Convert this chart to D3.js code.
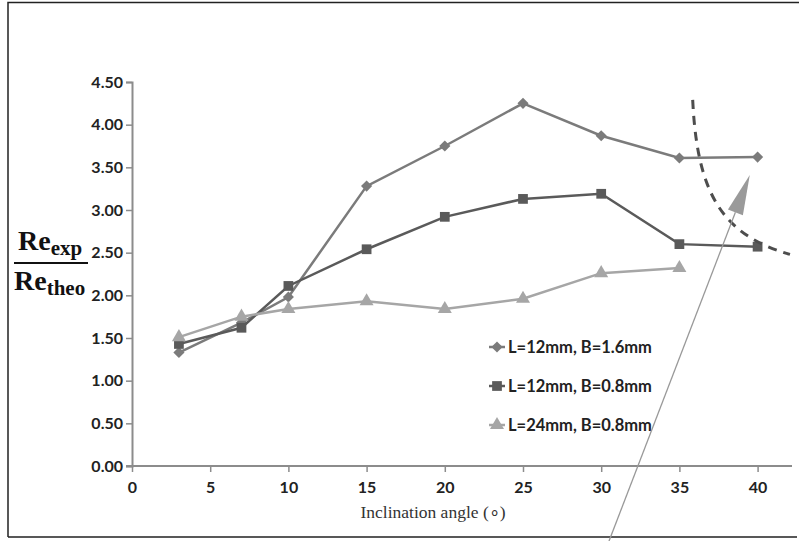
<!DOCTYPE html>
<html>
<head>
<meta charset="utf-8">
<script src="https://cdn.jsdelivr.net/npm/d3@7"></script>
<style>
  body { margin: 0; background: #fff; }
  svg { display: block; }
</style>
</head>
<body>
<div id="chart"></div>
<script>
// data
var ANGLES = [3, 7, 10, 15, 20, 25, 30, 35, 40];
var SERIES_NAMES = ["L=12mm, B=1.6mm", "L=12mm, B=0.8mm", "L=24mm, B=0.8mm"];
var S1 = [1.33, 1.68, 1.98, 3.28, 3.75, 4.25, 3.87, 3.61, 3.62];
var S2 = [1.43, 1.62, 2.11, 2.54, 2.92, 3.13, 3.19, 2.60, 2.57];
var S3 = [1.51, 1.75, 1.84, 1.93, 1.84, 1.96, 2.26, 2.32];
var X_TICKS = [0, 5, 10, 15, 20, 25, 30, 35, 40];
var Y_TICKS = [0, 0.5, 1, 1.5, 2, 2.5, 3, 3.5, 4, 4.5];

// hand drawn annotation, in data units (start, control 1, control 2, end)
var DASH_CURVE = [[35.85, 4.29], [36.13, 3.23], [37.6, 2.71], [42.07, 2.48]];
var ARROW = [[30.5, -0.88], [39.5, 3.41]];

var colors = ["#7b7b7b", "#5a5a5a", "#a6a6a6"];
// diamond = square turned 45 degrees, as in the original
var shapes = [d3.symbolSquare, d3.symbolSquare, d3.symbolTriangle];
var sizes = [62, 95, 85];
var turns = [45, 0, 0];

var W = 799, H = 541;
var x = d3.scaleLinear().domain([0, 42.2]).range([132, 792]);
var y = d3.scaleLinear().domain([0, 4.5]).range([466, 82]);

var svg = d3.select("#chart").append("svg").attr("width", W).attr("height", H);
svg.append("rect").attr("width", W).attr("height", H).attr("fill", "#fff");

// frame
svg.append("path").attr("d", "M8,537V2.5H799 M8,537H797")
  .attr("fill", "none").attr("stroke", "#222").attr("stroke-width", 1.5);

// axes
var xAxis = svg.append("g").attr("transform", "translate(0," + y(0) + ")")
  .call(d3.axisBottom(x).tickValues(X_TICKS).tickFormat(d3.format("d")).tickSizeOuter(0).tickSize(6).tickPadding(10));
var yAxis = svg.append("g").attr("transform", "translate(" + x(0) + ",0)")
  .call(d3.axisLeft(y).tickValues(Y_TICKS).tickFormat(d3.format(".2f")).tickSizeOuter(0).tickSize(6).tickPadding(3));
[xAxis, yAxis].forEach(function(g) {
  g.select(".domain").attr("stroke", "#8c8c8c").attr("stroke-width", 2);
  g.selectAll(".tick line").attr("stroke", "#8c8c8c").attr("stroke-width", 1.5);
  g.selectAll("text").attr("fill", "#222").style("font-family", "Lato, 'Open Sans', sans-serif")
    .style("font-weight", "bold").style("font-size", "16px");
});
// extend x axis line to the left edge of the y axis
xAxis.select(".domain").attr("d", "M" + (x(0) - 6) + ",0H" + x(42.2));

// series
var allSeries = [S1, S2, S3];
var line = d3.line().x(function(d) { return x(d[0]); }).y(function(d) { return y(d[1]); });
allSeries.forEach(function(vals, i) {
  var pts = vals.map(function(v, j) { return [ANGLES[j], v]; });
  svg.append("path").datum(pts).attr("d", line).attr("fill", "none")
    .attr("stroke", colors[i]).attr("stroke-width", 2.5);
  svg.selectAll(".m" + i).data(pts).enter().append("path")
    .attr("transform", function(d) { return "translate(" + x(d[0]) + "," + y(d[1]) + ")rotate(" + turns[i] + ")"; })
    .attr("d", d3.symbol().type(shapes[i]).size(sizes[i]))
    .attr("fill", colors[i]);
});

// legend
var legY = [347, 386, 425];
SERIES_NAMES.forEach(function(name, i) {
  var g = svg.append("g").attr("transform", "translate(497," + legY[i] + ")");
  g.append("line").attr("x1", -8).attr("x2", 8).attr("stroke", colors[i]).attr("stroke-width", 2.5);
  g.append("path").attr("d", d3.symbol().type(shapes[i]).size(sizes[i]))
    .attr("transform", "rotate(" + turns[i] + ")").attr("fill", colors[i]);
  g.append("text").attr("x", 11).attr("y", 5.5).text(name).attr("fill", "#222")
    .style("font-family", "Lato, 'Open Sans', sans-serif").style("font-weight", "bold").style("font-size", "16.5px");
});

// axis titles
svg.append("text").attr("x", 433).attr("y", 518).attr("text-anchor", "middle")
  .text("Inclination angle (\u2218)").attr("fill", "#333")
  .style("font-family", "'Liberation Serif', serif").style("font-size", "17.5px");

var yt = svg.append("g").style("font-family", "'Liberation Serif', 'DejaVu Serif', serif").style("font-weight", "bold").attr("fill", "#111");
var num = yt.append("text").attr("x", 18).attr("y", 250).style("font-size", "28px");
num.append("tspan").text("Re");
num.append("tspan").attr("dy", 5).style("font-size", "21px").text("exp");
yt.append("line").attr("x1", 14).attr("x2", 88).attr("y1", 263).attr("y2", 263)
  .attr("stroke", "#111").attr("stroke-width", 2);
var den = yt.append("text").attr("x", 14).attr("y", 290).style("font-size", "28px");
den.append("tspan").text("Re");
den.append("tspan").attr("dy", 5).style("font-size", "21px").text("theo");

// dashed curve and arrow
var dc = DASH_CURVE.map(function(p) { return [x(p[0]), y(p[1])]; });
svg.append("path").attr("d", "M" + dc[0] + "C" + dc[1] + " " + dc[2] + " " + dc[3])
  .attr("fill", "none").attr("stroke", "#4d4d4d").attr("stroke-width", 3).attr("stroke-dasharray", "9,7");

var a0 = [x(ARROW[0][0]), y(ARROW[0][1])], a1 = [x(ARROW[1][0]), y(ARROW[1][1])];
var ang = Math.atan2(a1[1] - a0[1], a1[0] - a0[0]);
var headLen = 40, headW = 8;
var bx = a1[0] - headLen * Math.cos(ang), by = a1[1] - headLen * Math.sin(ang);
svg.append("line").attr("x1", a0[0]).attr("y1", a0[1]).attr("x2", bx).attr("y2", by)
  .attr("stroke", "#999").attr("stroke-width", 1.3);
svg.append("path").attr("d", "M" + a1 + "L" + (bx + headW * Math.sin(ang)) + "," + (by - headW * Math.cos(ang)) +
  "L" + (bx - headW * Math.sin(ang)) + "," + (by + headW * Math.cos(ang)) + "Z").attr("fill", "#9a9a9a");
</script>
</body>
</html>
